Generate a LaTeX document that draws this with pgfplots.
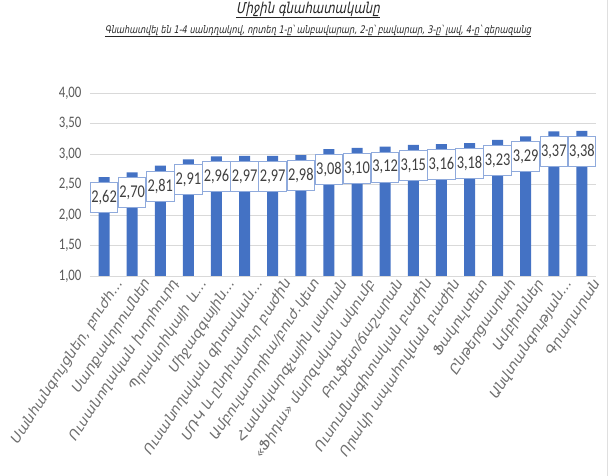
\documentclass[border=0pt]{standalone}
\usepackage{fontspec}
\setmainfont{Carlito}[FakeStretch=0.8]
\newfontfamily\arm{DejaVu Sans}[FakeSlant=0.2,FakeStretch=0.78]
\newfontfamily\armx{DejaVu Sans}[FakeSlant=0.2,FakeStretch=1.04]
\usepackage{pgfplots}
\pgfplotsset{compat=1.18}
\definecolor{barblue}{RGB}{68,114,196}
\definecolor{lblblue}{RGB}{143,170,220}
\definecolor{txtgray}{RGB}{89,89,89}
\definecolor{lbltxt}{RGB}{110,110,110}
\begin{document}
\begin{tikzpicture}[x=1pt,y=1pt]
\useasboundingbox (-90,-200) rectangle (524,276);
\draw[gray!25] (517,-200) -- (517,276);
\node[font=\arm\fontsize{15}{15}\selectfont, text=black!85] at (218,266) {\underline{Միջին գնահատականը}};
\node[font=\arm\fontsize{10.5}{10.5}\selectfont, text=black!85] at (228,245) {\underline{Գնահատվել են 1-4 սանդղակով, որտեղ 1-ը՝ անբավարար, 2-ը՝ բավարար, 3-ը՝ լավ, 4-ը՝ գերազանց}};
\begin{axis}[
  at={(0,0)}, anchor=south west, scale only axis,
  width=506pt, height=183pt,
  ymin=1, ymax=4, ytick={1,1.5,2,2.5,3,3.5,4},
  xmin=-0.5, xmax=17.5, xtick=data,
  /pgf/number format/.cd, fixed, fixed zerofill, precision=2, use comma, assume math mode=true,
  /pgfplots/.cd,
  ymajorgrids, grid style={gray!30, line width=0.8pt},
  axis line style={draw=none}, major tick length=0pt,
  yticklabel style={font=\fontsize{16}{16}\selectfont, text=txtgray, xshift=-5pt},
  xticklabels={{Սանհանգույցներ, բուժհ…},{Սարքավորումներ},{Ուսանողական խորհուրդ},{Պրակտիկայի և…},{Միջազգային…},{Ուսանողական գիտական…},{ՄՌԿ և ընդհանուր բաժին},{Ամբուլատորիա/բուժ.կետ},{Համակարգչային լսարան},{«Ֆիդա» մարզական ակումբ},{Բուֆետ/ճաշարան},{Ուսումնագիտական բաժին},{Որակի ապահովման բաժին},{Ֆակուլտետ},{Ընթերցասրահ},{Ամբիոններ},{Անվտանգության…},{Գրադարան}},
  xticklabel style={font=\armx\fontsize{13.5}{13.5}\selectfont, text=lbltxt, rotate=57, anchor=east, inner sep=1pt, yshift=-16pt, xshift=5pt},
  clip=false,
  ybar, bar width=11pt,
  nodes near coords,
  every node near coord/.append style={anchor=north, yshift=-5pt, draw=lblblue, line width=1pt, fill=white, text=black!75, font=\fontsize{18}{18}\selectfont, inner xsep=1pt, minimum height=30pt},
]
\addplot[fill=barblue, draw=none] coordinates {
(0,2.62) (1,2.70) (2,2.81) (3,2.91) (4,2.96) (5,2.97) (6,2.97) (7,2.98) (8,3.08)
(9,3.10) (10,3.12) (11,3.15) (12,3.16) (13,3.18) (14,3.23) (15,3.29) (16,3.37) (17,3.38)};
\end{axis}
\end{tikzpicture}
\end{document}
